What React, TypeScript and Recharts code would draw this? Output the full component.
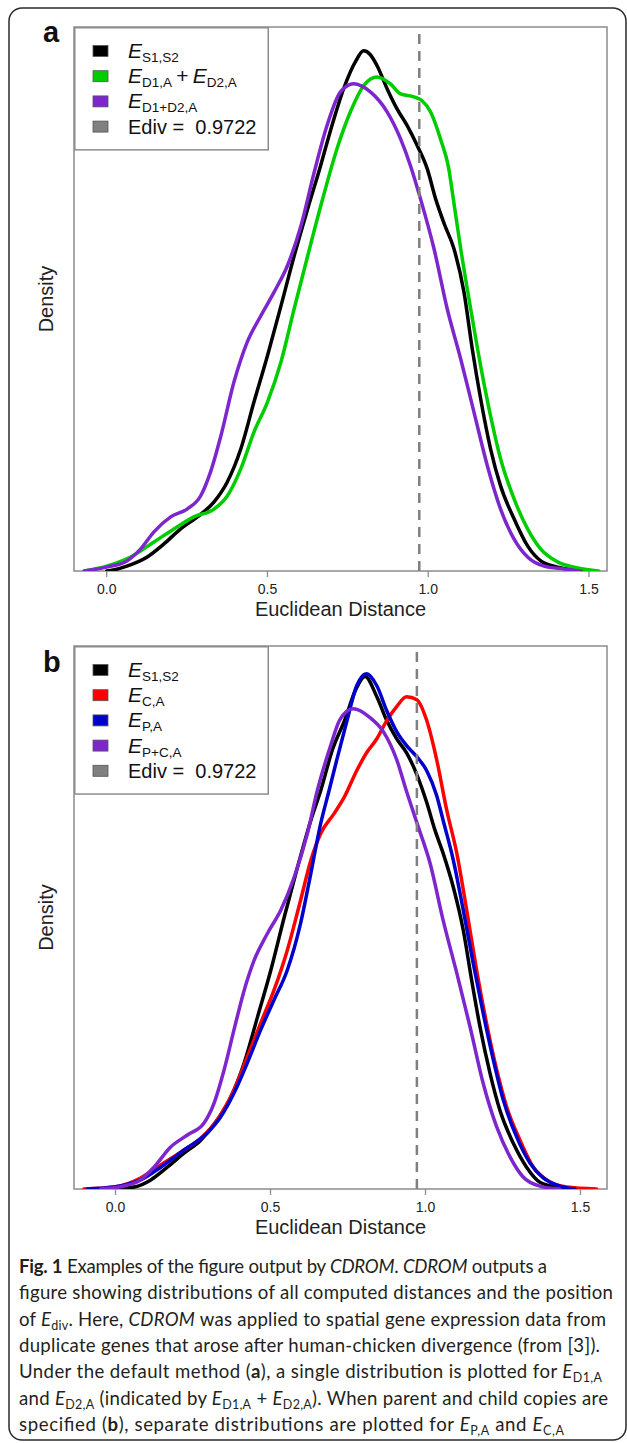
import React from "react";
import { LineChart, Line, XAxis, YAxis, ReferenceLine, ReferenceArea, Legend, Label } from "recharts";

type Pt = [number, number];
type Part = { t: string; it?: boolean; sub?: boolean; b?: boolean };

// ---------- data (x = Euclidean distance, y = density) ----------
const X_TICKS = [0, 0.5, 1.0, 1.5];
const EDIV = 0.9722;

// Panel a
const A_S1S2: Pt[] = [
  [0, 0], [0.02, 0.003], [0.063, 0.015], [0.126, 0.043], [0.178, 0.083], [0.23, 0.129], [0.282, 0.166],
  [0.334, 0.212], [0.375, 0.273], [0.417, 0.374], [0.458, 0.518], [0.5, 0.66], [0.542, 0.813], [0.583, 0.966],
  [0.625, 1.11], [0.665, 1.242], [0.695, 1.347], [0.737, 1.479], [0.775, 1.564], [0.799, 1.595], [0.82, 1.583],
  [0.841, 1.549], [0.872, 1.479], [0.903, 1.417], [0.935, 1.365], [0.966, 1.304], [0.997, 1.233], [1.023, 1.141],
  [1.05, 1.064], [1.08, 0.988], [1.111, 0.856], [1.137, 0.681], [1.163, 0.528], [1.194, 0.374], [1.225, 0.261],
  [1.267, 0.16], [1.309, 0.077], [1.35, 0.031], [1.402, 0.012], [1.465, 0.003], [1.49, 0],
];
const A_D1A_D2A: Pt[] = [
  [-0.07, 0], [0, 0.015], [0.074, 0.043], [0.147, 0.089], [0.209, 0.129], [0.271, 0.166], [0.334, 0.19],
  [0.375, 0.23], [0.417, 0.313], [0.458, 0.426], [0.5, 0.518], [0.542, 0.641], [0.583, 0.804], [0.625, 0.966],
  [0.67, 1.135], [0.716, 1.294], [0.758, 1.408], [0.799, 1.488], [0.841, 1.515], [0.882, 1.494], [0.914, 1.463],
  [0.955, 1.454], [0.981, 1.442], [1.007, 1.408], [1.038, 1.325], [1.064, 1.233], [1.078, 1.141], [1.101, 0.988],
  [1.132, 0.804], [1.163, 0.629], [1.194, 0.475], [1.225, 0.344], [1.267, 0.221], [1.309, 0.129], [1.35, 0.067],
  [1.402, 0.028], [1.465, 0.009], [1.53, 0],
];
const A_D1D2A: Pt[] = [
  [-0.07, 0], [0, 0.012], [0.063, 0.031], [0.105, 0.067], [0.147, 0.12], [0.199, 0.166], [0.25, 0.19],
  [0.292, 0.23], [0.323, 0.304], [0.355, 0.414], [0.396, 0.58], [0.437, 0.702], [0.479, 0.782], [0.521, 0.856],
  [0.562, 0.936], [0.604, 1.058], [0.645, 1.221], [0.685, 1.365], [0.727, 1.469], [0.768, 1.494], [0.82, 1.469],
  [0.872, 1.408], [0.914, 1.325], [0.945, 1.242], [0.976, 1.141], [1.018, 0.988], [1.059, 0.804], [1.101, 0.65],
  [1.142, 0.488], [1.184, 0.322], [1.225, 0.19], [1.267, 0.098], [1.309, 0.043], [1.36, 0.015], [1.423, 0.006],
  [1.47, 0],
];

// Panel b
const B_S1S2: Pt[] = [
  [0, 0], [0.06, 0.006], [0.114, 0.028], [0.167, 0.067], [0.221, 0.11], [0.275, 0.15], [0.328, 0.212],
  [0.372, 0.282], [0.415, 0.387], [0.458, 0.528], [0.501, 0.672], [0.544, 0.834], [0.587, 0.988], [0.63, 1.132],
  [0.662, 1.224], [0.7, 1.35], [0.74, 1.442], [0.775, 1.534], [0.805, 1.574], [0.843, 1.512], [0.875, 1.439],
  [0.907, 1.383], [0.939, 1.34], [0.972, 1.273], [1.004, 1.187], [1.03, 1.104], [1.057, 1.031], [1.09, 0.926],
  [1.122, 0.794], [1.149, 0.641], [1.176, 0.497], [1.208, 0.356], [1.24, 0.242], [1.283, 0.141], [1.326, 0.067],
  [1.369, 0.021], [1.423, 0.006], [1.477, 0],
];
const B_CA: Pt[] = [
  [-0.102, 0], [-0.005, 0.006], [0.081, 0.034], [0.146, 0.074], [0.21, 0.113], [0.275, 0.156], [0.328, 0.212],
  [0.382, 0.304], [0.425, 0.405], [0.468, 0.509], [0.511, 0.61], [0.554, 0.733], [0.597, 0.887], [0.63, 1.009],
  [0.662, 1.092], [0.705, 1.153], [0.737, 1.202], [0.778, 1.285], [0.81, 1.34], [0.843, 1.383], [0.875, 1.439],
  [0.907, 1.482], [0.939, 1.512], [0.972, 1.503], [1.004, 1.439], [1.036, 1.319], [1.068, 1.166], [1.101, 1.031],
  [1.133, 0.856], [1.165, 0.672], [1.197, 0.509], [1.23, 0.365], [1.262, 0.252], [1.305, 0.15], [1.348, 0.067],
  [1.391, 0.028], [1.455, 0.006], [1.552, 0],
];
const B_PA: Pt[] = [
  [-0.091, 0], [-0.005, 0.006], [0.081, 0.028], [0.146, 0.067], [0.221, 0.12], [0.296, 0.172], [0.339, 0.221],
  [0.382, 0.294], [0.425, 0.387], [0.468, 0.488], [0.511, 0.58], [0.554, 0.672], [0.597, 0.816], [0.63, 0.969],
  [0.662, 1.123], [0.689, 1.224], [0.714, 1.319], [0.746, 1.436], [0.778, 1.546], [0.81, 1.583], [0.843, 1.546],
  [0.875, 1.469], [0.907, 1.405], [0.939, 1.362], [0.972, 1.328], [1.004, 1.285], [1.036, 1.209], [1.057, 1.132],
  [1.09, 1.009], [1.122, 0.856], [1.154, 0.693], [1.186, 0.54], [1.219, 0.396], [1.251, 0.273], [1.294, 0.16],
  [1.337, 0.08], [1.38, 0.034], [1.434, 0.009], [1.482, 0],
];
const B_PCA: Pt[] = [
  [-0.048, 0], [0.027, 0.009], [0.081, 0.028], [0.124, 0.067], [0.178, 0.129], [0.232, 0.166], [0.285, 0.202],
  [0.318, 0.264], [0.35, 0.365], [0.382, 0.488], [0.415, 0.61], [0.447, 0.702], [0.49, 0.785], [0.533, 0.856],
  [0.576, 0.957], [0.619, 1.092], [0.651, 1.224], [0.692, 1.356], [0.724, 1.442], [0.767, 1.475], [0.821, 1.448],
  [0.864, 1.405], [0.907, 1.319], [0.939, 1.221], [0.975, 1.117], [1.015, 1.0], [1.057, 0.825], [1.101, 0.663],
  [1.144, 0.497], [1.186, 0.325], [1.23, 0.19], [1.273, 0.098], [1.315, 0.037], [1.369, 0.009], [1.434, 0],
];

// ---------- styles ----------
const AXIS_FONT = "'Liberation Sans', Arial, Helvetica, sans-serif";
const CAPTION_FONT = "Lato, 'Open Sans', sans-serif";
const FRAME = "#8c8c8c";
const C_BLACK = "#000000";
const C_GREEN = "#00CD00";
const C_PURPLE = "#7D26CD";
const C_RED = "#FF0000";
const C_BLUE = "#0000CD";
const C_GRAY = "#808080";
const Y_MAX = 1.668;

type Series = { key: string; color: string; data: Pt[]; parts: Part[] };

const SERIES_A: Series[] = [
  { key: "s1s2", color: C_BLACK, data: A_S1S2, parts: [{ t: "E", it: true }, { t: "S1,S2", sub: true }] },
  {
    key: "d1d2sum", color: C_GREEN, data: A_D1A_D2A,
    parts: [{ t: "E", it: true }, { t: "D1,A", sub: true }, { t: "\u2009+\u2009" }, { t: "E", it: true }, { t: "D2,A", sub: true }],
  },
  { key: "d1d2", color: C_PURPLE, data: A_D1D2A, parts: [{ t: "E", it: true }, { t: "D1+D2,A", sub: true }] },
];
const SERIES_B: Series[] = [
  { key: "s1s2", color: C_BLACK, data: B_S1S2, parts: [{ t: "E", it: true }, { t: "S1,S2", sub: true }] },
  { key: "ca", color: C_RED, data: B_CA, parts: [{ t: "E", it: true }, { t: "C,A", sub: true }] },
  { key: "pa", color: C_BLUE, data: B_PA, parts: [{ t: "E", it: true }, { t: "P,A", sub: true }] },
  { key: "pca", color: C_PURPLE, data: B_PCA, parts: [{ t: "E", it: true }, { t: "P+C,A", sub: true }] },
];

function renderParts(parts: Part[], base: number, subSize: number, shift: number) {
  let cur = 0;
  return parts.map((p, i) => {
    const target = p.sub ? shift : 0;
    const dy = target - cur;
    cur = target;
    return (
      <tspan
        key={i}
        dy={dy !== 0 ? dy : undefined}
        fontStyle={p.it ? "italic" : undefined}
        fontWeight={p.b ? "bold" : undefined}
        fontSize={p.sub ? subSize : base}
      >
        {p.t}
      </tspan>
    );
  });
}

function LegendBox({ series }: { series: Series[] }) {
  const rows = [
    ...series.map((s) => ({ color: s.color, parts: s.parts, plain: false })),
    { color: C_GRAY, parts: [{ t: "Ediv =  0.9722" }], plain: true },
  ];
  const h = 24 + 25.2 * (rows.length - 1) + 24;
  return (
    <svg width={195} height={h} style={{ display: "block" }}>
      <rect x={0.75} y={0.75} width={193.5} height={h - 1.5} fill="#ffffff" stroke={FRAME} strokeWidth={1.5} />
      {rows.map((r, i) => {
        const cy = 24 + 25.2 * i;
        return (
          <g key={i}>
            <rect x={19} y={cy - 5.5} width={15} height={11} fill={r.color} stroke="#555" strokeWidth={0.8} />
            <text x={54} y={cy + 7} fontFamily={AXIS_FONT} fill="#111" style={{ whiteSpace: "pre" }} fontSize={r.plain ? 20 : 21}>
              {renderParts(r.parts, r.plain ? 20 : 21, 13.5, 4)}
            </text>
          </g>
        );
      })}
    </svg>
  );
}

const XTitle = (props: any) => {
  const vb = props.viewBox || { x: 74, y: 571, width: 533, height: 49 };
  const cx = vb.x + vb.width / 2;
  const cy = vb.y + 38;
  return (
    <text x={cx} y={cy} textAnchor="middle" dominantBaseline="central" fontSize={20} fontFamily={AXIS_FONT} fill="#222">
      Euclidean Distance
    </text>
  );
};

const YTitle = (props: any) => {
  const vb = props.viewBox || { x: 0, y: 27, width: 74, height: 544 };
  const cx = vb.x + 46;
  const cy = vb.y + vb.height / 2;
  return (
    <text x={cx} y={cy} transform={`rotate(-90 ${cx} ${cy})`} textAnchor="middle" dominantBaseline="central" fontSize={20} fontFamily={AXIS_FONT} fill="#222">
      Density
    </text>
  );
};

function Panel({ top, series, domainX, xAxisH }: { top: number; series: Series[]; domainX: [number, number]; xAxisH: number }) {
  return (
    <div style={{ position: "absolute", left: 0, top, width: 627, height: 620 }}>
      <LineChart width={627} height={620} margin={{ top: 27, right: 20, bottom: 0, left: 0 }}>
        <XAxis
          type="number"
          dataKey="x"
          domain={domainX}
          allowDataOverflow
          ticks={X_TICKS}
          interval={0}
          tickFormatter={(v: number) => v.toFixed(1)}
          axisLine={false}
          tickLine={{ stroke: FRAME, strokeWidth: 1.3 }}
          tickSize={6}
          tickMargin={7}
          height={xAxisH}
          tick={{ fontSize: 14, fill: "#222", fontFamily: AXIS_FONT }}
        >
          <Label content={XTitle} />
        </XAxis>
        <YAxis type="number" domain={[0, Y_MAX]} allowDataOverflow width={74} axisLine={false} tickLine={false} tick={false}>
          <Label content={YTitle} />
        </YAxis>
        <ReferenceArea x1={domainX[0]} x2={domainX[1]} y1={0} y2={Y_MAX} fill="#ffffff" fillOpacity={0} stroke={FRAME} strokeWidth={1.5} ifOverflow="visible" />
        {series.map((s) => (
          <Line
            key={s.key}
            name={s.key}
            data={s.data.map(([x, y]) => ({ x, y }))}
            dataKey="y"
            type="monotone"
            stroke={s.color}
            strokeWidth={3.5}
            strokeLinejoin="round"
            strokeLinecap="round"
            dot={false}
            activeDot={false}
            isAnimationActive={false}
          />
        ))}
        <ReferenceLine x={EDIV} stroke={C_GRAY} strokeWidth={2.5} strokeDasharray="10 7" ifOverflow="visible" />
        <Legend
          layout="vertical"
          align="center"
          verticalAlign="middle"
          wrapperStyle={{ left: 74, top: 27, width: 195 }}
          content={() => <LegendBox series={series} />}
        />
      </LineChart>
    </div>
  );
}

const CAPTION_LINES: { parts: Part[]; width: number }[] = [
  { parts: [{ t: "Fig. 1", b: true }, { t: " Examples of the figure output by " }, { t: "CDROM", it: true }, { t: ". " }, { t: "CDROM", it: true }, { t: " outputs a" }], width: 528 },
  { parts: [{ t: "figure showing distributions of all computed distances and the position" }], width: 594 },
  { parts: [{ t: "of " }, { t: "E", it: true }, { t: "div", sub: true }, { t: ". Here, " }, { t: "CDROM", it: true }, { t: " was applied to spatial gene expression data from" }], width: 587 },
  { parts: [{ t: "duplicate genes that arose after human-chicken divergence (from [3])." }], width: 581 },
  { parts: [{ t: "Under the default method (" }, { t: "a", b: true }, { t: "), a single distribution is plotted for " }, { t: "E", it: true }, { t: "D1,A", sub: true }], width: 583 },
  {
    parts: [{ t: "and " }, { t: "E", it: true }, { t: "D2,A", sub: true }, { t: " (indicated by " }, { t: "E", it: true }, { t: "D1,A", sub: true }, { t: " + " }, { t: "E", it: true }, { t: "D2,A", sub: true }, { t: "). When parent and child copies are" }],
    width: 589,
  },
  { parts: [{ t: "specified (" }, { t: "b", b: true }, { t: "), separate distributions are plotted for " }, { t: "E", it: true }, { t: "P,A", sub: true }, { t: " and " }, { t: "E", it: true }, { t: "C,A", sub: true }], width: 545 },
];

export default function App() {
  return (
    <div style={{ position: "absolute", left: 0, top: 0, width: 627, height: 1443, background: "#ffffff", overflow: "hidden" }}>
      <svg width={627} height={1443} style={{ position: "absolute", left: 0, top: 0 }}>
        <rect x={9} y={8} width={617} height={1432} rx={13} ry={13} fill="#ffffff" stroke="#2a2a2a" strokeWidth={1.5} />
        <text x={43} y={42} fontSize={29} fontWeight="bold" fontFamily={AXIS_FONT} fill="#111">a</text>
        <text x={43} y={672} fontSize={29} fontWeight="bold" fontFamily={AXIS_FONT} fill="#111">b</text>
        {CAPTION_LINES.map((l, i) => (
          <text
            key={i}
            x={19}
            y={1273 + 26.3 * i}
            fontSize={18.6}
            fontFamily={CAPTION_FONT}
            fill="#231f20"
            textLength={l.width}
            lengthAdjust="spacing"
          >
            {renderParts(l.parts, 18.6, 12.5, 4)}
          </text>
        ))}
      </svg>
      <Panel top={0} series={SERIES_A} domainX={[-0.1017, 1.556]} xAxisH={49} />
      <Panel top={619} series={SERIES_B} domainX={[-0.1339, 1.5855]} xAxisH={50} />
    </div>
  );
}
